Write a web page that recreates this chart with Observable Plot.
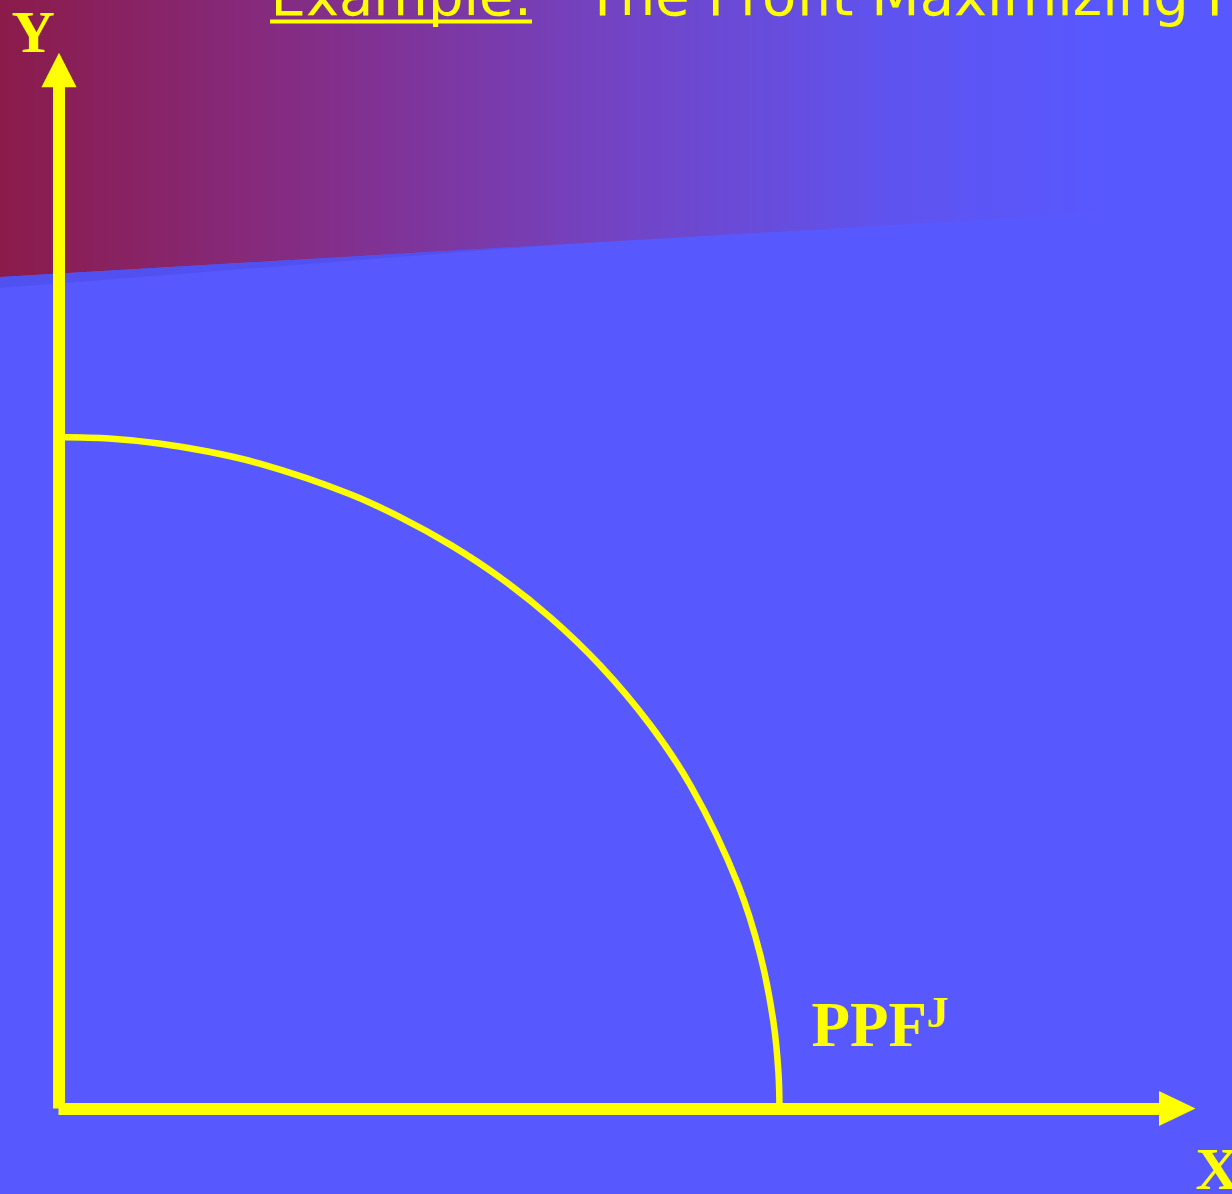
<!DOCTYPE html>
<html><head><meta charset="utf-8">
<script src="https://cdn.jsdelivr.net/npm/d3@7"></script>
<script src="https://cdn.jsdelivr.net/npm/@observablehq/plot@0.6"></script>
<style>
html,body{margin:0;padding:0;background:#5858FF;overflow:hidden;width:1232px;height:1194px}
#chart svg{display:block}
</style>
</head><body><div id="chart"></div>
<script>
// Production possibility frontier PPF^J (origin at the axes' corner)
const ppfX = [0, 50, 100, 150, 200, 290, 341.5, 391.5, 441.5, 491.5, 541.5, 591.5, 631.5, 679.5, 701.5, 714.5, 719.5, 720.5];
const ppfY = [672, 670.4, 665.5, 657.2, 645.6, 615.2, 591.7, 564.1, 531.1, 491.4, 443.3, 383.7, 323.5, 223.4, 153.3, 86.6, 35.4, 0];

const axisNames = ["X", "Y"];
const curveName = "PPF";
const curveSup = "J";
const titleLead = "Example:";
const titleRest = "The Profit Maximizing P";

const YELLOW = "#FFFF00";
const ppf = ppfX.map((x, i) => ({x, y: ppfY[i]}));

// frame in data units: 1 unit = 1 px, origin at the axes' corner
const W = 1232, H = 1194, OX = 58.5, OY = 1108.5;
const X0 = -OX, X1 = W - OX, Y0 = OY - H, Y1 = OY;
const py = (p) => OY - p; // picture row -> data y
const px = (p) => p - OX; // picture column -> data x

// axis geometry
const yTop = py(52.7), yArrowBase = py(87.3), halfHead = 17.6;
const xTip = px(1195.5), xArrowBase = px(1159);

function gradientDefs() {
  const ns = "http://www.w3.org/2000/svg";
  const g = document.createElementNS(ns, "g");
  const defs = document.createElementNS(ns, "defs");
  const lg = document.createElementNS(ns, "linearGradient");
  lg.setAttribute("id", "bgGrad");
  lg.setAttribute("x1", "0"); lg.setAttribute("y1", "0");
  lg.setAttribute("x2", "1"); lg.setAttribute("y2", "0");
  [[0, "#8B1B4A"], [0.25, "#842D86"], [0.5, "#7244C4"], [0.72, "#5F53EE"], [0.9, "#5858FF"], [1, "#5858FF"]]
    .forEach(([o, c]) => {
      const s = document.createElementNS(ns, "stop");
      s.setAttribute("offset", o);
      s.setAttribute("stop-color", c);
      lg.appendChild(s);
    });
  defs.appendChild(lg);
  g.appendChild(defs);
  return g;
}

const slope = (213 - 277) / 1100;
const edgeAt = (col) => py(277 + slope * col);
const serif = "'Liberation Serif', 'Times New Roman', serif";
const sans = "'DejaVu Sans', Verdana, sans-serif";

const chart = Plot.plot({
  width: W, height: H, margin: 0,
  x: {domain: [X0, X1], range: [0, W], axis: null},
  y: {domain: [Y0, Y1], range: [H, 0], axis: null},
  style: {background: "#5858FF", overflow: "hidden"},
  marks: [
    gradientDefs,
    Plot.areaY([{x: X0, lo: edgeAt(0), hi: Y1 + 5}, {x: X1, lo: edgeAt(W), hi: Y1 + 5}],
      {x: "x", y1: "lo", y2: "hi", fill: "url(#bgGrad)"}),
    Plot.areaY([{x: X0, lo: py(288), hi: edgeAt(0)}, {x: px(560), lo: edgeAt(560), hi: edgeAt(560)}],
      {x: "x", y1: "lo", y2: "hi", fill: "#5050EE", fillOpacity: 0.8}),
    // Y axis
    Plot.ruleX([0], {y1: 0, y2: yArrowBase + 1, stroke: YELLOW, strokeWidth: 12}),
    Plot.areaY([{x: -halfHead + 0.5, t: yArrowBase}, {x: 0.5, t: yTop}, {x: halfHead + 0.5, t: yArrowBase}],
      {x: "x", y1: yArrowBase, y2: "t", fill: YELLOW}),
    // X axis
    Plot.ruleY([0], {x1: 0, x2: xArrowBase + 1, stroke: YELLOW, strokeWidth: 12}),
    Plot.areaX([{y: -halfHead, t: xArrowBase}, {y: 0, t: xTip}, {y: halfHead, t: xArrowBase}],
      {y: "y", x1: xArrowBase, x2: "t", fill: YELLOW}),
    // PPF curve
    Plot.line(ppf, {x: "x", y: "y", curve: "catmull-rom", stroke: YELLOW, strokeWidth: 6.5}),
    // labels
    Plot.text([axisNames[1]], {x: px(11), y: py(51), text: d => d, textAnchor: "start", lineAnchor: "bottom",
      fill: YELLOW, fontFamily: serif, fontWeight: "bold", fontSize: 60}),
    Plot.text([axisNames[0]], {x: px(1195), y: py(1188), text: d => d, textAnchor: "start", lineAnchor: "bottom",
      fill: YELLOW, fontFamily: serif, fontWeight: "bold", fontSize: 60}),
    Plot.text([curveName], {x: px(811), y: py(1045), text: d => d, textAnchor: "start", lineAnchor: "bottom",
      fill: YELLOW, fontFamily: serif, fontWeight: "bold", fontSize: 63}),
    Plot.text([curveSup], {x: px(926), y: py(1026), text: d => d, textAnchor: "start", lineAnchor: "bottom",
      fill: YELLOW, fontFamily: serif, fontWeight: "bold", fontSize: 44}),
    // title
    Plot.text([titleLead], {x: px(270), y: py(14), text: d => d, textAnchor: "start", lineAnchor: "bottom",
      fill: YELLOW, fontFamily: sans, fontSize: 56}),
    Plot.ruleY([py(21)], {x1: px(270), x2: px(532), stroke: YELLOW, strokeWidth: 4}),
    Plot.text([titleRest], {x: px(585), y: py(14), text: d => d, textAnchor: "start", lineAnchor: "bottom",
      fill: YELLOW, fontFamily: sans, fontSize: 56})
  ]
});
document.getElementById("chart").appendChild(chart);
</script>
</body></html>
